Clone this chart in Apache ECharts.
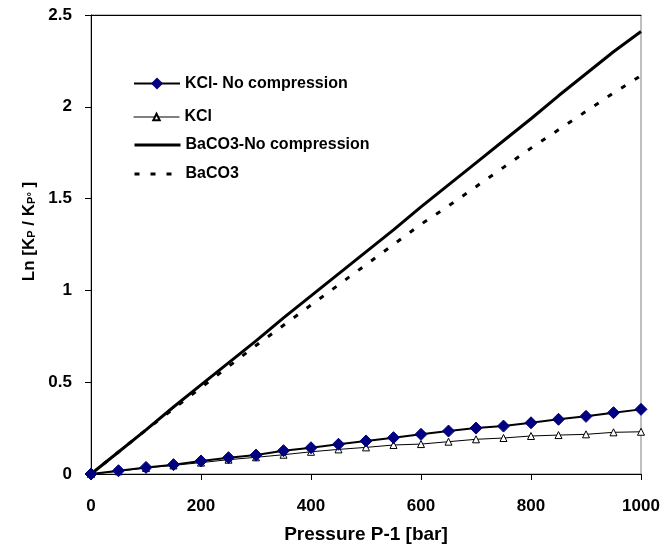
<!DOCTYPE html>
<html>
<head>
<meta charset="utf-8">
<script src="https://cdn.jsdelivr.net/npm/echarts@6/dist/echarts.min.js"></script>
<style>html,body{margin:0;padding:0;background:#fff;}#c{width:667px;height:554px;}</style>
</head>
<body>
<div id="c"></div>
<script>
const pressures = [0,50,100,150,200,250,300,350,400,450,500,550,600,650,700,750,800,850,900,950,1000];
const kclNoComp = [0,0.018,0.036,0.051,0.071,0.089,0.103,0.127,0.143,0.162,0.18,0.198,0.216,0.234,0.25,0.261,0.279,0.298,0.314,0.334,0.352];
const kcl = [0,0.015,0.033,0.047,0.062,0.078,0.091,0.105,0.121,0.134,0.145,0.158,0.163,0.176,0.189,0.196,0.207,0.212,0.216,0.227,0.23];
const bacoNoComp = [0,0.12,0.24,0.365,0.485,0.605,0.725,0.85,0.97,1.09,1.21,1.33,1.455,1.575,1.695,1.815,1.935,2.06,2.18,2.3,2.41];
const baco = [0,0.12,0.24,0.355,0.47,0.585,0.7,0.81,0.92,1.03,1.14,1.25,1.36,1.46,1.565,1.67,1.775,1.875,1.975,2.075,2.17];
const seriesNames = ['KCl- No compression','KCl','BaCO3-No compression','BaCO3'];
const xTicks = {min:0,max:1000,interval:200};
const yTicks = {min:0,max:2.5,interval:0.5};

const pair = arr => pressures.map((p,i)=>[p,arr[i]]);
const font = 'Liberation Sans, Arial, sans-serif';
const legendText = {fontFamily:font,fontWeight:'bold',fontSize:16,color:'#000'};
// one legend per row so each row can have its own marker size and line width
const legendRows = [
  {name:seriesNames[0], centerY:83, h:15, hide:false, lw:2},
  {name:seriesNames[1], centerY:113, h:8, hide:false, lw:1},
  {name:seriesNames[2], centerY:144, h:14, hide:true, lw:3},
  {name:seriesNames[3], centerY:173, h:14, hide:true, lw:3}
];
const legends = legendRows.map(r => ({
  orient:'vertical', left:128, top:r.centerY - r.h/2 - 5, itemWidth:46, itemHeight:r.h,
  textStyle:legendText, lineStyle:{width:r.lw},
  data:[r.hide ? {name:r.name, itemStyle:{opacity:0}} : r.name]
}));

const chart = echarts.init(document.getElementById('c'));
chart.setOption({
  animation:false,
  backgroundColor:'#fff',
  grid:{left:91,right:26,top:15,bottom:80,show:true,borderColor:'#808080',borderWidth:1,backgroundColor:'transparent'},
  legend:legends,
  xAxis:[{
    type:'value',min:xTicks.min,max:xTicks.max,interval:xTicks.interval,
    name:'Pressure P-1 [bar]',nameLocation:'middle',nameGap:51,
    nameTextStyle:{fontFamily:font,fontWeight:'bold',fontSize:19,color:'#000'},
    axisLine:{show:true,lineStyle:{color:'#000',width:1}},
    axisTick:{show:true,inside:false,length:6,lineStyle:{color:'#000'}},
    axisLabel:{margin:24,fontFamily:font,fontWeight:'bold',fontSize:17,color:'#000',formatter:v=>String(v)},
    splitLine:{show:false}
  },{
    type:'value',position:'top',min:xTicks.min,max:xTicks.max,
    axisLine:{show:true,lineStyle:{color:'#000',width:1}},
    axisTick:{show:false},axisLabel:{show:false},splitLine:{show:false}
  }],
  yAxis:{
    type:'value',min:yTicks.min,max:yTicks.max,interval:yTicks.interval,
    name:'Ln [K{s|P} / K{s|P°} ]',nameLocation:'middle',nameGap:52,
    nameTextStyle:{fontFamily:font,fontWeight:'bold',fontSize:17,color:'#000',padding:[0,0,0,26],
      rich:{s:{fontFamily:font,fontWeight:'bold',fontSize:11,color:'#000',padding:[6,0,0,0]}}},
    axisLine:{show:true,lineStyle:{color:'#000',width:1}},
    axisTick:{show:true,inside:false,length:6,lineStyle:{color:'#000'}},
    axisLabel:{margin:19,fontFamily:font,fontWeight:'bold',fontSize:17,color:'#000'},
    splitLine:{show:false}
  },
  series:[
    {name:seriesNames[2],type:'line',data:pair(bacoNoComp),symbol:'none',
      lineStyle:{color:'#000',width:3},itemStyle:{color:'#000'},z:2},
    {name:seriesNames[3],type:'line',data:pair(baco),symbol:'none',
      lineStyle:{color:'#000',width:3,type:[5,11]},itemStyle:{color:'#000'},z:2},
    {name:seriesNames[0],type:'line',data:pair(kclNoComp),symbol:'diamond',symbolSize:12,
      lineStyle:{color:'#000',width:2},itemStyle:{color:'#000080',borderColor:'#000080'},z:4},
    {name:seriesNames[1],type:'line',data:pair(kcl),symbol:'triangle',symbolSize:7,
      lineStyle:{color:'#000',width:1},itemStyle:{color:'#fff',borderColor:'#000',borderWidth:1},z:3}
  ]
});
</script>
</body>
</html>
